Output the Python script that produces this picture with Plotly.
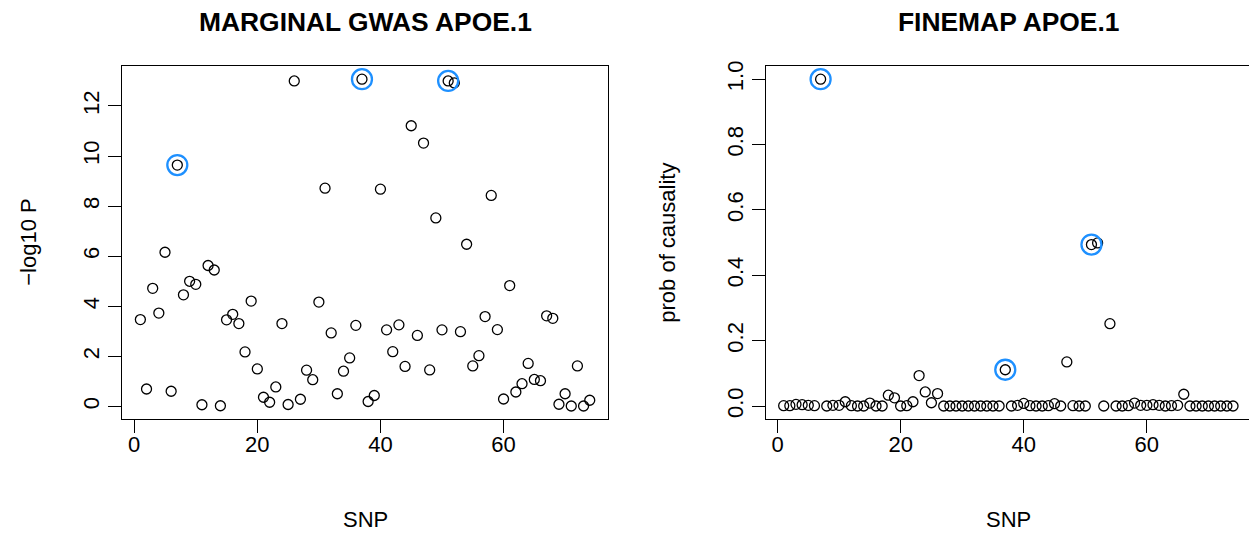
import plotly.graph_objects as go

# SNP index and per-SNP results
snp = list(range(1, 75))

gwas_logp = [3.47, 0.70, 4.72, 3.73, 6.16, 0.61, 9.64, 4.46, 5.00, 4.88,
             0.07, 5.63, 5.45, 0.03, 3.46, 3.68, 3.31, 2.18, 4.21, 1.50,
             0.37, 0.17, 0.78, 3.31, 0.08, 13.00, 0.29, 1.45, 1.07, 4.17,
             8.72, 2.94, 0.51, 1.41, 1.94, 3.24, 13.07, 0.20, 0.44, 8.68,
             3.06, 2.19, 3.26, 1.60, 11.21, 2.84, 10.52, 1.46, 7.53, 3.06,
             13.00, 12.92, 2.99, 6.48, 1.62, 2.03, 3.59, 8.43, 3.07, 0.30,
             4.83, 0.58, 0.91, 1.72, 1.08, 1.03, 3.62, 3.52, 0.09, 0.51,
             0.02, 1.62, 0.02, 0.25]

finemap_prob = [0.001, 0.001, 0.005, 0.004, 0.002, 0.001, 1.000, 0.000, 0.002, 0.002,
                0.013, 0.001, 0.000, 0.000, 0.009, 0.000, 0.000, 0.033, 0.025, 0.000,
                0.001, 0.013, 0.093, 0.043, 0.010, 0.038, 0.000, 0.000, 0.000, 0.000,
                0.000, 0.000, 0.000, 0.000, 0.000, 0.000, 0.111, 0.000, 0.002, 0.008,
                0.001, 0.000, 0.000, 0.001, 0.007, 0.000, 0.135, 0.001, 0.000, 0.000,
                0.494, 0.499, 0.000, 0.252, 0.000, 0.000, 0.001, 0.009, 0.002, 0.002,
                0.004, 0.002, 0.000, 0.001, 0.002, 0.036, 0.000, 0.000, 0.000, 0.000,
                0.000, 0.000, 0.000, 0.000]

# causal SNPs to ring
causal_snps = [7, 37, 51]

gwas_ticks = [0, 2, 4, 6, 8, 10, 12]
prob_ticks = [0.0, 0.2, 0.4, 0.6, 0.8, 1.0]
prob_tick_text = ["0.0", "0.2", "0.4", "0.6", "0.8", "1.0"]
snp_ticks = [0, 20, 40, 60]

W, H = 1249, 533
FONT = "Liberation Sans, Arial, Helvetica, sans-serif"
RING = "#1E90FF"


def padded(lo, hi, frac=0.04):
    d = (hi - lo) * frac
    return [lo - d, hi + d]


xr = padded(min(snp), max(snp))
px_per_unit = (607.7 - 122.4) / (xr[1] - xr[0])
# right panel runs past the page edge; keep the same x scale
xr2 = [xr[0], xr[0] + (W - 765.7) / px_per_unit]

fig = go.Figure()


def add_panel(values, xa, ya):
    fig.add_trace(go.Scatter(
        x=snp, y=values, mode="markers", xaxis=xa, yaxis=ya,
        marker=dict(symbol="circle-open", size=10, color="black",
                    line=dict(width=1.3, color="black")),
        showlegend=False, hoverinfo="x+y"))
    fig.add_trace(go.Scatter(
        x=causal_snps, y=[values[s - 1] for s in causal_snps],
        mode="markers", xaxis=xa, yaxis=ya,
        marker=dict(symbol="circle-open", size=20, color=RING,
                    line=dict(width=2.3, color=RING)),
        showlegend=False, hoverinfo="x+y"))


add_panel(gwas_logp, "x", "y")
add_panel(finemap_prob, "x2", "y2")

ydom = [(H - 418) / H, (H - 61.7) / H]
axis_common = dict(
    showgrid=False, zeroline=False, showline=True, linecolor="black",
    linewidth=1.4, ticks="outside", ticklen=13, tickwidth=1.4,
    tickcolor="black", tickfont=dict(family=FONT, size=22, color="black"),
)

fig.update_layout(
    width=W, height=H,
    margin=dict(l=0, r=0, t=0, b=0),
    paper_bgcolor="white", plot_bgcolor="white",
    font=dict(family=FONT, color="black"),
    xaxis=dict(domain=[122.4 / W, 607.7 / W], range=xr, tickvals=snp_ticks,
               mirror=True, anchor="y", ticklabelstandoff=-8, **axis_common),
    yaxis=dict(domain=ydom, range=padded(min(gwas_logp), max(gwas_logp)),
               tickvals=gwas_ticks, tickangle=-90, mirror=True, anchor="x",
               **axis_common),
    xaxis2=dict(domain=[765.7 / W, 1.0], range=xr2, tickvals=snp_ticks,
                mirror=True, anchor="y2", ticklabelstandoff=-8, **axis_common),
    yaxis2=dict(domain=ydom, range=padded(min(finemap_prob), max(finemap_prob)),
                tickvals=prob_ticks, ticktext=prob_tick_text, tickangle=-90,
                mirror=False, anchor="x2", **axis_common),
)

centers = [(122.4 + 607.7) / 2, (765.7 + 1251.0) / 2]
titles = ["MARGINAL GWAS APOE.1", "FINEMAP APOE.1"]
ylabels = ["\u2212log10 P", "prob of causality"]
ylab_x = [29, 668]

for cx, t in zip(centers, titles):
    fig.add_annotation(text="<b>%s</b>" % t, x=cx / W, y=1 - 17 / H,
                       xref="paper", yref="paper", showarrow=False,
                       xanchor="center", yanchor="middle",
                       font=dict(family=FONT, size=26.4, color="black"))
for cx in centers:
    fig.add_annotation(text="SNP", x=cx / W, y=1 - 519 / H,
                       xref="paper", yref="paper", showarrow=False,
                       xanchor="center", yanchor="middle",
                       font=dict(family=FONT, size=22, color="black"))
for lx, t in zip(ylab_x, ylabels):
    fig.add_annotation(text=t, x=lx / W, y=1 - 240 / H, textangle=-90,
                       xref="paper", yref="paper", showarrow=False,
                       xanchor="center", yanchor="middle",
                       font=dict(family=FONT, size=22, color="black"))

fig.write_html("out.html")
